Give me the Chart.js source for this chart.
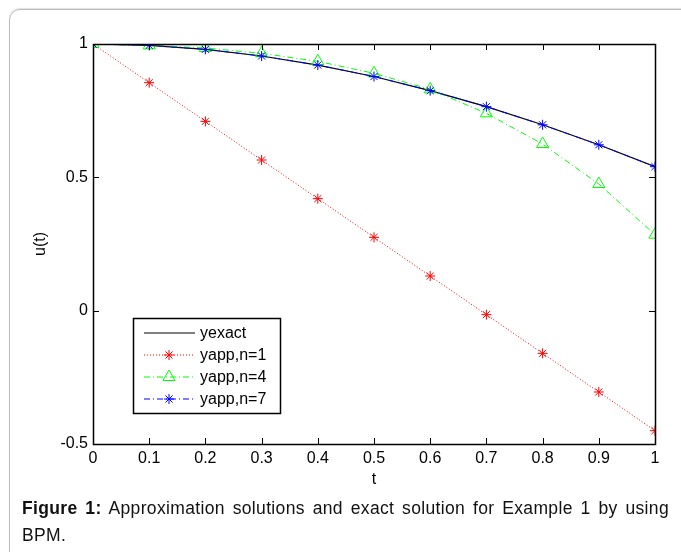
<!DOCTYPE html>
<html>
<head>
<meta charset="utf-8">
<script src="https://cdn.jsdelivr.net/npm/chart.js@4/dist/chart.umd.min.js"></script>
<style>
  html, body { margin: 0; padding: 0; background: #fff; }
  body { width: 681px; height: 552px; position: relative; overflow: hidden; font-family: "Liberation Sans", Arial, sans-serif; }
  #frame { position: absolute; left: 9px; top: 9px; width: 720px; height: 600px; border: 1px solid #bcbcbc; border-radius: 11px; box-shadow: 0 -1px 1px #e0e0e0; }
  #wrap { position: absolute; left: 0; top: 0; width: 681px; height: 552px; }
  #caption { position: absolute; left: 22px; top: 495px; width: 647px; font-size: 17.5px; letter-spacing: 0.35px; line-height: 27px; color: #111; }
  #caption .l1 { text-align: justify; text-align-last: justify; }
</style>
</head>
<body>
<div id="frame"></div>
<div id="wrap"><canvas id="chart" width="681" height="552"></canvas></div>
<div id="caption"><div class="l1"><b>Figure 1:</b> Approximation solutions and exact solution for Example 1 by using</div><div>BPM.</div></div>
<script>
const tValues = [0, 0.1, 0.2, 0.3, 0.4, 0.5, 0.6, 0.7, 0.8, 0.9, 1];
const yExact = [1, 0.995, 0.980, 0.955, 0.921, 0.878, 0.825, 0.765, 0.697, 0.622, 0.540];
const yAppN1 = [1, 0.855, 0.71, 0.565, 0.42, 0.275, 0.13, -0.015, -0.16, -0.305, -0.45];
const yAppN4 = [1, 0.995, 0.985, 0.965, 0.935, 0.89, 0.83, 0.74, 0.625, 0.475, 0.285];
const yAppN7 = [1, 0.995, 0.980, 0.955, 0.921, 0.878, 0.825, 0.765, 0.697, 0.622, 0.540];
const xTicks = [0, 0.1, 0.2, 0.3, 0.4, 0.5, 0.6, 0.7, 0.8, 0.9, 1];
const yTicks = [-0.5, 0, 0.5, 1];

const pts = (ys) => tValues.map((t, i) => ({ x: t, y: ys[i] }));

// MATLAB-like box with inward ticks and a legend box inside the axes
const matlabBox = {
  id: 'matlabBox',
  afterDatasetsDraw(chart) {
    const { ctx, chartArea: a, scales: { x, y } } = chart;
    ctx.save();
    ctx.strokeStyle = '#000';
    ctx.lineWidth = 1;
    ctx.beginPath();
    xTicks.forEach(v => {
      const px = Math.round(x.getPixelForValue(v)) + 0.5;
      ctx.moveTo(px, a.bottom); ctx.lineTo(px, a.bottom - 6);
      ctx.moveTo(px, a.top); ctx.lineTo(px, a.top + 6);
    });
    yTicks.forEach(v => {
      const py = Math.round(y.getPixelForValue(v)) + 0.5;
      ctx.moveTo(a.left, py); ctx.lineTo(a.left + 6, py);
      ctx.moveTo(a.right, py); ctx.lineTo(a.right - 6, py);
    });
    ctx.stroke();
    ctx.lineWidth = 1.5;
    ctx.strokeRect(Math.round(a.left) + 0.5, Math.round(a.top) + 0.5, Math.round(a.right - a.left), Math.round(a.bottom - a.top));

    // legend
    const lx = 133, ly = 318, lw = 147, lh = 95;
    ctx.fillStyle = '#fff';
    ctx.fillRect(lx, ly, lw, lh);
    ctx.lineWidth = 1.5;
    ctx.strokeRect(lx + 0.5, ly + 0.5, lw, lh);
    ctx.font = '16px "Liberation Sans", Arial, sans-serif';
    ctx.textBaseline = 'middle';
    chart.data.datasets.forEach((ds, i) => {
      const cy = ly + 15 + i * 22;
      ctx.strokeStyle = ds.borderColor;
      ctx.lineWidth = 1;
      ctx.setLineDash(ds.borderDash || []);
      ctx.beginPath();
      ctx.moveTo(144, cy); ctx.lineTo(195, cy);
      ctx.stroke();
      ctx.setLineDash([]);
      if (ds.pointRadius > 0) {
        ctx.strokeStyle = ds.pointBorderColor;
        ctx.fillStyle = ds.pointBackgroundColor;
        Chart.helpers.drawPoint(ctx, {
          pointStyle: ds.pointStyle, radius: ds.pointRadius, borderWidth: 1
        }, 169, cy);
      }
      ctx.fillStyle = '#000';
      ctx.fillText(ds.label, 200, cy + 1);
    });
    ctx.restore();
  }
};

const axisFont = { family: '"Liberation Sans", Arial', size: 16 };

new Chart(document.getElementById('chart').getContext('2d'), {
  type: 'scatter',
  data: {
    datasets: [
      { label: 'yexact', data: pts(yExact), showLine: true, borderColor: '#000', borderWidth: 1.2,
        pointRadius: 0, order: 3 },
      { label: 'yapp,n=1', data: pts(yAppN1), showLine: true, borderColor: '#ff0000', borderWidth: 1,
        borderDash: [1, 2], pointStyle: 'star', pointRadius: 5, pointBorderColor: '#ff0000',
        pointBackgroundColor: '#ff0000', pointBorderWidth: 1, order: 2 },
      { label: 'yapp,n=4', data: pts(yAppN4), showLine: true, borderColor: '#00ff00', borderWidth: 1,
        borderDash: [6, 3, 1, 3], pointStyle: 'triangle', pointRadius: 7, pointBorderColor: '#00ff00',
        pointBackgroundColor: 'rgba(0,0,0,0)', pointBorderWidth: 1, order: 1 },
      { label: 'yapp,n=7', data: pts(yAppN7), showLine: true, borderColor: '#0000ff', borderWidth: 1,
        borderDash: [6, 3, 1, 3], pointStyle: 'star', pointRadius: 5, pointBorderColor: '#0000ff',
        pointBackgroundColor: '#0000ff', pointBorderWidth: 1, order: 0 }
    ]
  },
  options: {
    responsive: false,
    animation: false,
    layout: { padding: { left: 0, top: 44, right: 26, bottom: 0 } },
    plugins: { legend: { display: false }, tooltip: { enabled: false } },
    scales: {
      x: {
        type: 'linear', min: 0, max: 1,
        afterFit: (s) => { s.height = 108; },
        afterBuildTicks: (s) => { s.ticks = xTicks.map(v => ({ value: v })); },
        grid: { display: false, drawTicks: false },
        border: { display: false },
        ticks: { color: '#000', padding: 5, maxRotation: 0, font: axisFont,
          callback: (v) => String(v) },
        title: { display: true, text: 't', color: '#000', padding: { top: 0, bottom: 63 },
          font: axisFont }
      },
      y: {
        type: 'linear', min: -0.5, max: 1,
        afterFit: (s) => { s.width = 93; },
        afterBuildTicks: (s) => { s.ticks = yTicks.map(v => ({ value: v })); },
        grid: { display: false, drawTicks: false },
        border: { display: false },
        ticks: { color: '#000', padding: 5, font: axisFont,
          callback: (v) => String(v) },
        title: { display: true, text: 'u(t)', color: '#000', padding: { top: 31, bottom: 0 },
          font: axisFont }
      }
    }
  },
  plugins: [matlabBox]
});
</script>
</body>
</html>
